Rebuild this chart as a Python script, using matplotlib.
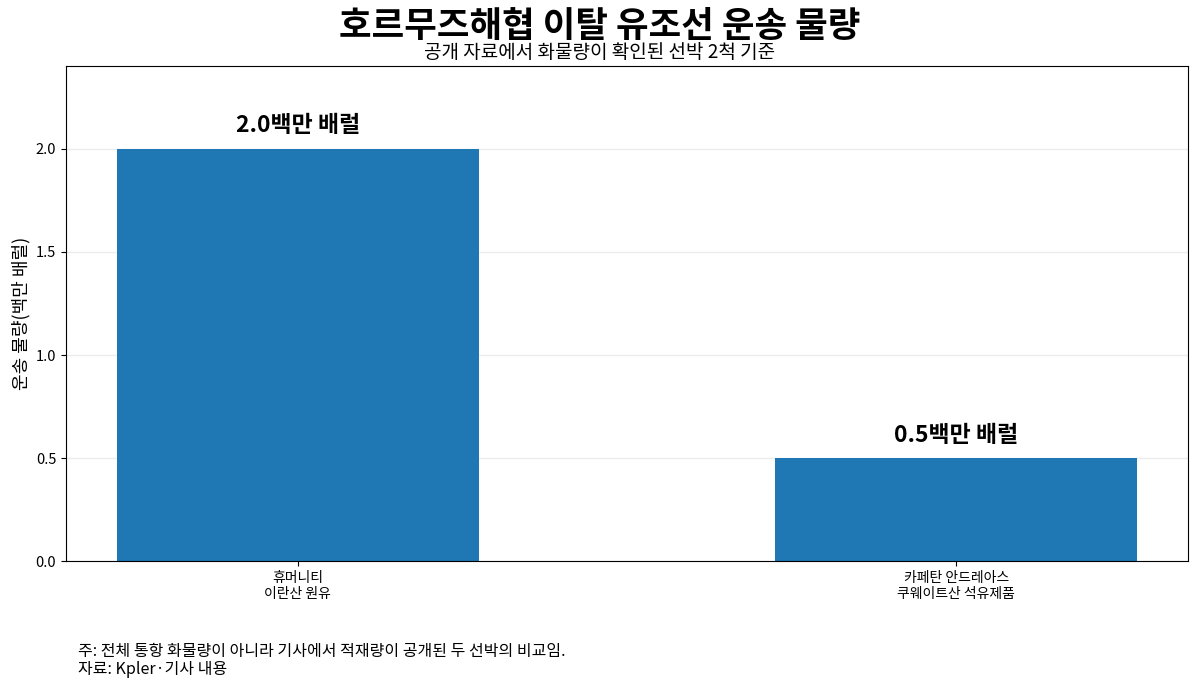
import matplotlib.pyplot as plt

plt.rcParams['font.family'] = ['Noto Sans CJK KR', 'DejaVu Sans']

# 데이터
ships = ['휴머니티\n이란산 원유', '카페탄 안드레아스\n쿠웨이트산 석유제품']
volumes = [2.0, 0.5]  # 백만 배럴
value_labels = ['2.0백만 배럴', '0.5백만 배럴']

fig = plt.figure(figsize=(12, 6.88), dpi=100)
ax = fig.add_axes([0.055, 0.184, 0.935, 0.72])

x = list(range(len(ships)))
ax.bar(x, volumes, width=0.55, color='#1f77b4', zorder=2)

for xi, v, lab in zip(x, volumes, value_labels):
    ax.text(xi, v + 0.055, lab, ha='center', va='bottom', fontsize=16.5, fontweight='bold')

ax.set_xlim(-0.352, 1.352)
ax.set_ylim(0, 2.4)
ax.set_yticks([0.0, 0.5, 1.0, 1.5, 2.0])
ax.set_yticklabels(['0.0', '0.5', '1.0', '1.5', '2.0'])
ax.set_xticks(x)
ax.set_xticklabels(ships, fontsize=10)
ax.tick_params(axis='y', labelsize=10.5)
ax.set_ylabel('운송 물량(백만 배럴)', fontsize=13)
ax.grid(axis='y', color='#ececec', linewidth=1, zorder=0)

fig.text(0.5, 0.962, '호르무즈해협 이탈 유조선 운송 물량', ha='center', va='center',
         fontsize=25.5, fontweight='bold')
fig.text(0.5, 0.924, '공개 자료에서 화물량이 확인된 선박 2척 기준', ha='center', va='center',
         fontsize=13.7)

fig.text(0.065, 0.04, '주: 전체 통항 화물량이 아니라 기사에서 적재량이 공개된 두 선박의 비교임.\n자료: Kpler·기사 내용',
         ha='left', va='center', fontsize=11.5, linespacing=1.05)

fig.savefig('out.png', dpi=100)
